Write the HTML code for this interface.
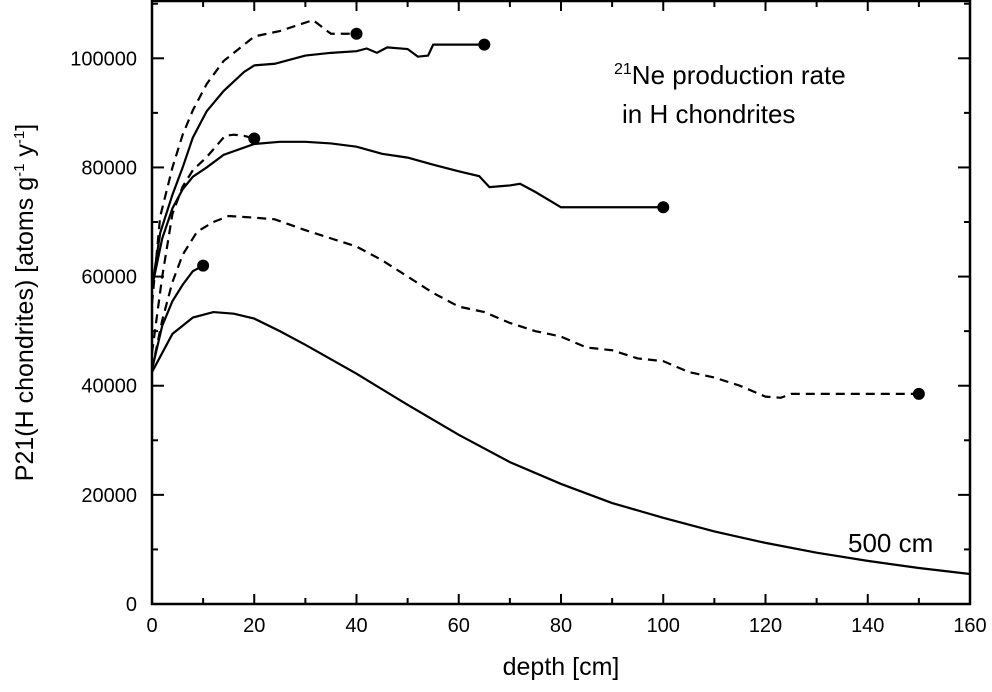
<!DOCTYPE html>
<html><head><meta charset="utf-8"><style>
body{margin:0;background:#fff}
svg{display:block;font-family:"Liberation Sans",Arial,sans-serif}
</style></head><body>
<svg id="chart" width="992" height="692"></svg>
<script>
const xTicks=[0,20,40,60,80,100,120,140,160];
const yTicks=[0,20000,40000,60000,80000,100000];
const s500x=[0,4,8,12,16,20,25,30,40,50,60,70,80,90,100,110,120,130,140,150,160];
const s500y=[42500,49500,52500,53500,53200,52300,50000,47500,42200,36500,31000,26000,22000,18500,15800,13300,11200,9400,7900,6600,5500];
const s150x=[0,2,4,6,8.8,12,15,20,24,30,35,40,45,50,55,60,65,70,75,80,85,90,95,100,105,110,115,120,123,125,150];
const s150y=[43000,52000,59000,64000,68200,70000,71100,70800,70500,68500,67000,65500,63000,60000,57000,54500,53500,51500,50000,49000,47000,46500,45000,44500,42500,41500,40000,38000,37800,38500,38500];
const s10x=[0,2,4,6,8,10];
const s10y=[43000,51000,55500,58500,61000,62000];
const s20x=[0,2,4,6,8,10.7,14.3,16,18,20];
const s20y=[46000,60000,71500,76500,79500,81900,85800,86000,85800,85300];
const s100x=[0,2,4,6,8,10.7,14,20,25,30,35,40,45,50,55,60,64,66,70,72,75,80,100];
const s100y=[58000,67000,72500,76000,78300,80000,82300,84300,84700,84700,84400,83800,82500,81800,80500,79300,78400,76400,76700,77000,75500,72700,72700];
const s40x=[0,1.6,4,6,8,10.7,14,20,25,31.5,35,40];
const s40y=[55000,71000,80000,86000,90500,95300,99500,104000,105000,107000,104500,104500];
const s65x=[0,1.6,4,6,8,10.7,14,18,20,24,26,30,35,40,42,44,46,50,52,54,55,65];
const s65y=[58000,68000,75000,80000,85500,90300,94000,97500,98700,99000,99500,100500,101000,101300,101800,101000,102000,101700,100300,100500,102500,102500];

const L=152,R=970,T=1,B=604,XMAX=160,YMAX=110500;
const X=v=>L+(R-L)*v/XMAX, Y=v=>B-(B-T)*v/YMAX;
const svg=document.getElementById('chart');
const NS='http://www.w3.org/2000/svg';
function mk(t,a){const e=document.createElementNS(NS,t);for(const k in a)e.setAttribute(k,a[k]);svg.appendChild(e);return e;}
function series(xs,ys,dashed,name,dot){
  const p=mk('polyline',{points:xs.map((x,i)=>X(x)+','+Y(ys[i])).join(' '),fill:'none',stroke:'#000','stroke-width':2.2,'stroke-dasharray':dashed?'9,6':'none'});
  
  
  if(dot){
  const c=mk('circle',{cx:X(xs[xs.length-1]),cy:Y(ys[ys.length-1]),r:6,fill:'#000'});
  
  }
}
const f=mk('rect',{x:L,y:T,width:R-L,height:B-T,fill:'none',stroke:'#000','stroke-width':2.5});


for(let v=0;v<=XMAX;v+=10){const maj=v%20===0,len=maj?10:6;
  mk('line',{x1:X(v),x2:X(v),y1:B,y2:B-len,stroke:'#000','stroke-width':2});
  mk('line',{x1:X(v),x2:X(v),y1:T,y2:T+len,stroke:'#000','stroke-width':2});}
xTicks.forEach(v=>{const t=mk('text',{x:X(v),y:B+28,'text-anchor':'middle','font-size':20});t.textContent=v;
  
  });
for(let v=0;v<=YMAX;v+=10000){const maj=v%20000===0,len=maj?12:6;
  mk('line',{x1:L,x2:L+len,y1:Y(v),y2:Y(v),stroke:'#000','stroke-width':2});
  mk('line',{x1:R,x2:R-len,y1:Y(v),y2:Y(v),stroke:'#000','stroke-width':2});}
yTicks.forEach(v=>{const t=mk('text',{x:L-15,y:Y(v)+7,'text-anchor':'end','font-size':20});t.textContent=v;
  
  });
const xt=mk('text',{x:(L+R)/2,y:675,'text-anchor':'middle','font-size':25});xt.textContent='depth [cm]';


const yt=mk('text',{transform:'translate(33,'+(B+T)/2+') rotate(-90)','text-anchor':'middle','font-size':25});
yt.innerHTML='P21(H chondrites) [atoms g<tspan dy="-9" font-size="15">-1</tspan><tspan dy="9"> y</tspan><tspan dy="-9" font-size="15">-1</tspan><tspan dy="9">]</tspan>';


series(s500x,s500y,false,'curve-500cm',false);
series(s150x,s150y,true,'curve-150cm',true);
series(s10x,s10y,false,'curve-10cm',true);
series(s20x,s20y,true,'curve-20cm',true);
series(s100x,s100y,false,'curve-100cm',true);
series(s40x,s40y,true,'curve-40cm',true);
series(s65x,s65y,false,'curve-65cm',true);
const t1=mk('text',{x:614,y:84,'font-size':26});
t1.innerHTML='<tspan dy="-10" font-size="16">21</tspan><tspan dy="10">Ne production rate</tspan>';


const t2=mk('text',{x:622,y:123,'font-size':26});t2.textContent='in H chondrites';


const t3=mk('text',{x:848,y:552,'font-size':26});t3.textContent='500 cm';


</script>
</body></html>
